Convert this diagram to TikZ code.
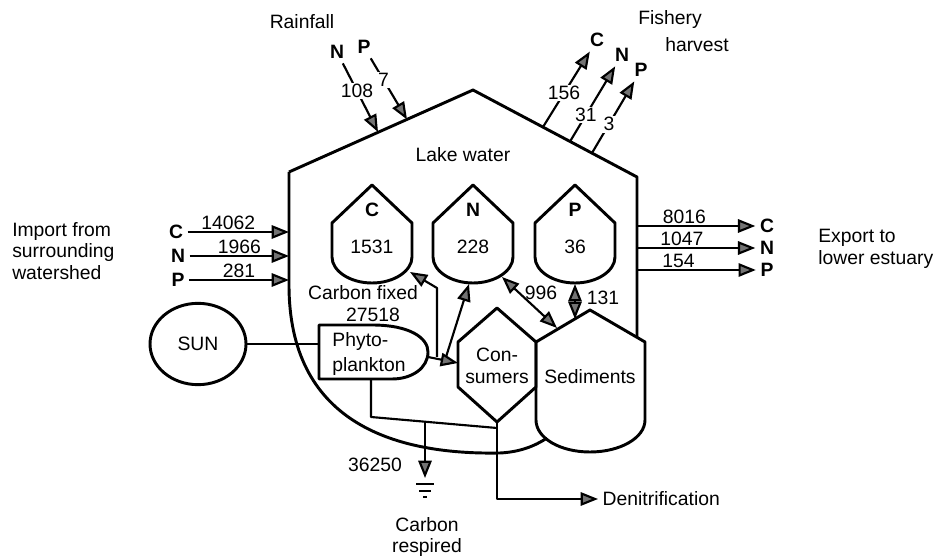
\documentclass[tikz,border=0pt]{standalone}
\usepackage{fontspec}
\setmainfont{Liberation Sans}
\usetikzlibrary{arrows.meta, shapes.geometric}

\begin{document}
\begin{tikzpicture}[
    x=0.75pt, y=-0.75pt,
    font=\fontsize{14.5}{16}\selectfont,
    outline/.style={line width=2.2pt, line join=round},
    link/.style={line width=1.6pt, line join=round},
    arrow/.style={link, -{Triangle[length=13pt,width=10pt,fill=black!55]}},
    biarrow/.style={link, {Triangle[length=13pt,width=10pt,fill=black!55]}-{Triangle[length=13pt,width=10pt,fill=black!55]}},
    elem/.style={font=\fontsize{14.5}{16}\selectfont\bfseries},
    num/.style={fill=white, inner sep=1pt},
    txt/.style={align=left, inner sep=0pt}
]
\useasboundingbox (0,0) rectangle (936,559);

% lake water outline
\coordinate (roofL) at (289,172);
\coordinate (apex) at (473,90);
\coordinate (roofR) at (637,177);
\draw[outline] (roofL) -- (apex) -- (roofR) -- (637,337);
\draw[outline] (roofL) -- (289,285) .. controls (289,420) and (390,455) .. (500,453)
  .. controls (520,452) and (535,446) .. (547,438);
\node (lake) at (463,155) {Lake water};

% storages C, N, P
\foreach \cx/\el/\amt in {372/C/1531, 473/N/228, 575/P/36}{
  \draw[outline] (\cx,185) -- ({\cx+40},223) -- ({\cx+40},257)
    .. controls ({\cx+40},271) and ({\cx+22},283) .. (\cx,283)
    .. controls ({\cx-22},283) and ({\cx-40},271) .. ({\cx-40},257)
    -- ({\cx-40},223) -- cycle;
  \node[elem] (pool\el) at (\cx,210) {\el};
  \node (amt\el) at (\cx,247) {\amt};
}

% sediments and consumers
\draw[outline] (590,310) -- (645,342) -- (645,420) .. controls (645,438) and (620,452) .. (590,452)
  .. controls (560,452) and (536,438) .. (536,420) -- (536,342) -- cycle;
\node (sed) at (590,377) {Sediments};
\draw[outline] (497,308) -- (536,342) -- (536,387) -- (497,422) -- (458,387) -- (458,342) -- cycle;
\node[align=center, inner sep=0pt] (cons) at (497,366) {Con-\\sumers};

% sun and phytoplankton
\node[ellipse, draw, outline, minimum width=72pt, minimum height=61pt] (sun) at (198,344) {SUN};
\draw[outline] (319,379) -- (319,325) -- (372,325) .. controls (410,325) and (428,338) .. (428,352)
  .. controls (428,368) and (412,379) .. (392,379) -- cycle;
\node[txt] (phyto) at (369,354) {Phyto-\\[3pt]plankton};
\coordinate (phytoW) at (319,344);
\coordinate (phytoE) at (428,357);
\coordinate (phytoS) at (371,379);
\draw[link] (sun.east) -- (phytoW);

% carbon fixation
\coordinate (consW) at (458,363);
\coordinate (fixJ) at (437,357);
\coordinate (fixK) at (437,288);
\coordinate (tipC) at (410,272);
\coordinate (nJ) at (446,357);
\coordinate (tipN) at (469,284);
\draw[arrow] (phytoE) -- (consW);
\draw[arrow] (fixJ) -- (fixK) -- (tipC);
\draw[arrow] (nJ) -- (tipN);
\node (fixlbl) at (363,293) {Carbon fixed};
\node (fixamt) at (373,315) {27518};

% exchange with sediments
\coordinate (nSed) at (502,277);
\coordinate (sedN) at (557,328);
\coordinate (pSed) at (575,284);
\coordinate (sedP) at (575,319);
\draw[biarrow] (nSed) -- (sedN);
\draw[biarrow] (pSed) -- (sedP);
\node (x996) at (541,293) {996};
\node (x131) at (603,298) {131};

% respiration
\coordinate (respK) at (371,417);
\coordinate (respJ) at (425,421.7);
\coordinate (respE) at (497,428);
\coordinate (gndtip) at (425,478);
\draw[link] (phytoS) -- (respK) -- (respE);
\draw[arrow] (respJ) -- (gndtip);
\draw[link] (416,484) -- (434,484);
\draw[link] (419,491) -- (431,491);
\draw[link] (423,497) -- (427,497);
\node (resp) at (375,465) {36250};
\node[align=center] (resplbl) at (427,537) {Carbon\\respired};

% denitrification
\coordinate (consS) at (497,422);
\coordinate (denK) at (497,499);
\node[anchor=west] (denit) at (598,499) {Denitrification};
\draw[arrow] (consS) -- (denK) -- (denit.west);

% rainfall
\node (rain) at (302,22) {Rainfall};
\node[elem] (rainN) at (337,52) {N};
\node[elem] (rainP) at (364,47) {P};
\coordinate (rainNtip) at (378,132);
\coordinate (rainPtip) at (407,119.5);
\draw[arrow] (rainN) -- node[num, pos=0.4] {108} (rainNtip);
\draw[arrow] (rainP) -- node[num, pos=0.35] {7} (rainPtip);

% fishery harvest
\node (fish) at (670,20) {Fishery};
\node (harv) at (697,45) {harvest};
\node[elem] (fishC) at (597,40) {C};
\node[elem] (fishN) at (622,55) {N};
\node[elem] (fishP) at (641,70) {P};
\coordinate (outC) at (543,127);
\coordinate (outN) at (570,141.5);
\coordinate (outP) at (592,153);
\draw[arrow] (outC) -- node[num, pos=0.45] {156} (fishC);
\draw[arrow] (outN) -- node[num, pos=0.35] {31} (fishN);
\draw[arrow] (outP) -- node[num, pos=0.4] {3} (fishP);

% import
\node[txt, anchor=west] (imp) at (12,251) {Import from\\surrounding\\watershed};
\node[elem] (impC) at (176,232) {C};
\node[elem] (impN) at (178,256) {N};
\node[elem] (impP) at (178,280) {P};
\draw[arrow] (impC) -- node[above, pos=0.4, inner sep=1pt] {14062} (impC -| roofL);
\draw[arrow] (impN) -- node[above, pos=0.5, inner sep=1pt] {1966} (impN -| roofL);
\draw[arrow] (impP) -- node[above, pos=0.5, inner sep=1pt] {281} (impP -| roofL);

% export
\node[txt, anchor=west] (exp) at (818,249) {Export to\\lower estuary};
\node[elem] (expC) at (767,226) {C};
\node[elem] (expN) at (767,248) {N};
\node[elem] (expP) at (767,270) {P};
\draw[arrow] (expC -| roofR) -- node[above, pos=0.4, inner sep=1pt] {8016} (expC);
\draw[arrow] (expN -| roofR) -- node[above, pos=0.38, inner sep=1pt] {1047} (expN);
\draw[arrow] (expP -| roofR) -- node[above, pos=0.35, inner sep=1pt] {154} (expP);
\end{tikzpicture}
\end{document}
